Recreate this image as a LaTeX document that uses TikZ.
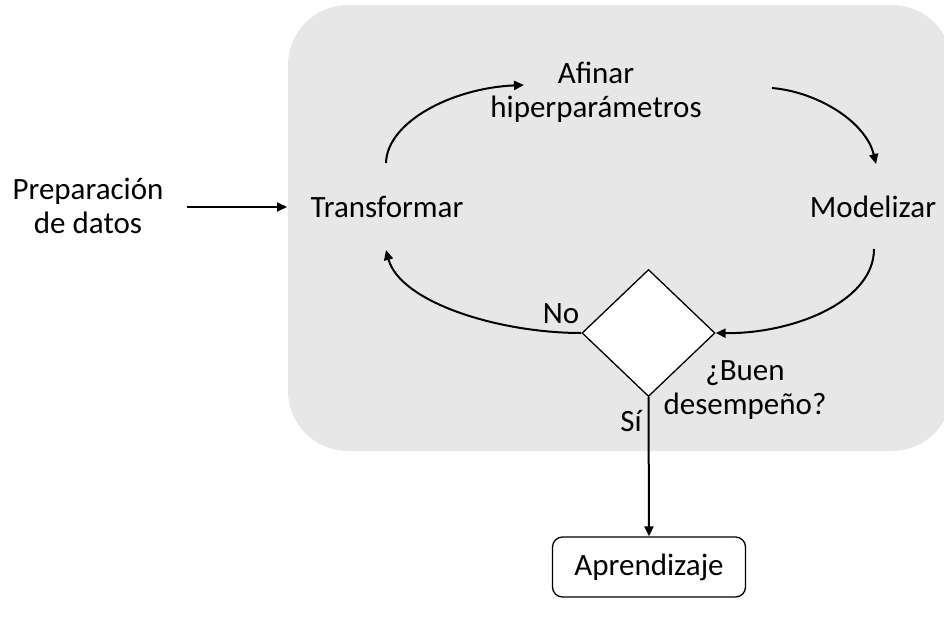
\documentclass[tikz,border=0pt]{standalone}
\usepackage{fontspec}
\setmainfont{Carlito}
\usetikzlibrary{shapes.geometric,arrows.meta}
\definecolor{panelgray}{HTML}{E7E7E7}
\tikzset{
  lbl/.style={font=\fontsize{31}{34}\selectfont, align=center, inner sep=0pt},
  flow/.style={line width=2pt, -{Triangle[length=10pt,width=9pt]}},
  decision/.style={diamond, draw, fill=white, line width=1.3pt, inner sep=0pt,
                   minimum width=133pt, minimum height=127pt},
  endbox/.style={draw, rounded corners=10pt, line width=1.3pt, fill=white,
                 minimum width=193pt, minimum height=60pt, inner sep=0pt}
}
\begin{document}
\begin{tikzpicture}[x=1pt,y=-1pt]
\useasboundingbox (0,0) rectangle (944,624);
% shaded loop panel
\fill[panelgray, rounded corners=60pt] (288,5) rectangle (952,451);

% nodes
\node[lbl] (prep)   at (88,206)  {Preparación\\de datos};
\node[lbl] (trans)  at (387,207) {Transformar};
\node[lbl] (afinar) at (596,92)  {Afinar\\hiperparámetros};
\node[lbl] (model)  at (873,207) {Modelizar};
\node[decision] (dec) at (648.5,333) {};
\node[lbl] (nolbl)  at (561,314) {No};
\node[lbl] (silbl)  at (631,421) {Sí};
\node[lbl] (qlbl)   at (745,390) {¿Buen\\desempeño?};
\node[endbox, lbl, minimum width=193pt, minimum height=60pt] (aprend) at (649,567) {Aprendizaje};

% curve end points around the labels
\coordinate (transTop) at (386,163);
\coordinate (transBot) at (386,250);
\coordinate (afinarL)  at (524,85);
\coordinate (afinarR)  at (772,88);
\coordinate (modelTop) at (876,164);
\coordinate (modelBot) at (874,249);

% connectors
\draw[flow] (187,207) -- (trans.west -| 287,207);
\draw[flow] (transTop) .. controls (387,122) and (452,88) .. (afinarL);
\draw[flow] (afinarR) .. controls (818,92) and (866,122) .. (modelTop);
\draw[flow] (modelBot) .. controls (874,302) and (792,334) .. (dec.east);
\draw[flow] (dec.west) .. controls (498,333) and (400,302) .. (transBot);
\draw[flow] (dec.south) -- (aprend.north);
\end{tikzpicture}
\end{document}
